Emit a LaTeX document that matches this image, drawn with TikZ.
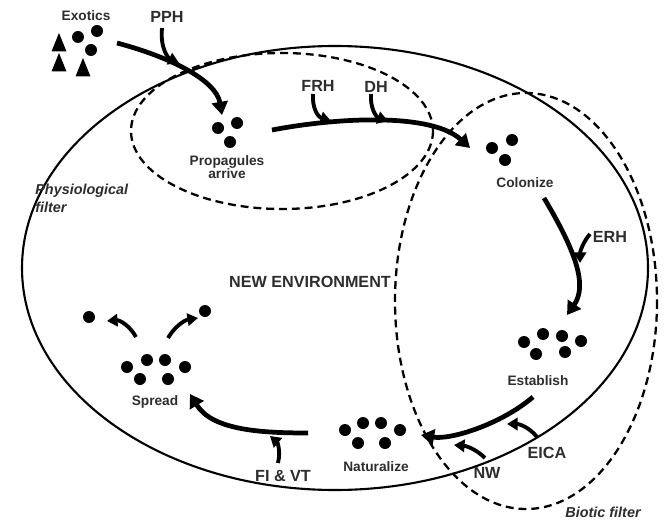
\documentclass[tikz,border=0pt]{standalone}
\usepackage{fontspec}
\setmainfont{Liberation Sans}
\definecolor{txtgray}{RGB}{45,45,45}
\usetikzlibrary{arrows.meta}
\tikzset{
  px/.style={x=0.02cm, y=-0.02cm},
  lbl/.style={font=\bfseries\fontsize{7.8}{9}\selectfont, text=txtgray, inner sep=0pt},
  hyp/.style={font=\bfseries\fontsize{9.2}{10}\selectfont, text=txtgray, inner sep=0pt},
  filt/.style={font=\bfseries\itshape\fontsize{8.2}{10}\selectfont, text=txtgray, inner sep=0pt, align=left},
  flow/.style={line width=2.7pt, -{Triangle[length=7.5pt,width=9pt]}},
  push/.style={line width=2.2pt, -{Triangle[length=6pt,width=7pt]}},
  filter/.style={line width=1.3pt, dash pattern=on 4.5pt off 2.8pt},
}
\begin{document}
\begin{tikzpicture}[px]
  \useasboundingbox (0,0) rectangle (665,520);
  % filtros
  \draw[line width=1.2pt] (335,268) ellipse [x radius=313, y radius=222];
  \draw[filter] (282,131) ellipse [x radius=151, y radius=78];
  \draw[filter] (526,301) ellipse [x radius=131, y radius=208];
  % especies
  \foreach \p in {(59,33), (59,53), (83,58)}
    \fill \p ++(0,0) -- ++(7.5,18.5) -- ++(-15,0) -- cycle;
  \foreach \p in {(78,37), (97,31), (91,50),
                  (218,128), (237,123), (230,142),
                  (492,148), (512,140), (505,160),
                  (524,342), (543,334), (562,336), (581,341), (536,354), (565,352),
                  (345,430), (363,423), (381,423), (400,430), (358,443), (385,443),
                  (127,367), (147,360), (165,360), (185,367), (140,379), (168,379),
                  (89,317), (205,311)}
    \fill \p circle [radius=6];
  % etiquetas
  \node[lbl] (exotics) at (86,16) {Exotics};
  \node[hyp] (pph) at (167,17) {PPH};
  \node[lbl, align=center] (propagules) at (227,167) {Propagules\\[-1.5pt]arrive};
  \node[hyp] (frh) at (318,86) {FRH};
  \node[hyp] (dh) at (376,87) {DH};
  \node[lbl] (colonize) at (525,183) {Colonize};
  \node[hyp] (erh) at (610,237) {ERH};
  \node[lbl] (establish) at (538,381) {Establish};
  \node[hyp] (eica) at (547,453) {EICA};
  \node[hyp] (nw) at (487,473) {NW};
  \node[lbl] (naturalize) at (376,467) {Naturalize};
  \node[hyp] (fivt) at (283,476) {FI \& VT};
  \node[lbl] (spread) at (155,402) {Spread};
  \node[hyp] (newenv) at (310,282) {NEW ENVIRONMENT};
  \node[filt, anchor=north west] (physio) at (35,184) {Physiological\\filter};
  \node[filt] (biotic) at (603,512) {Biotic filter};
  % extremos de flechas
  \coordinate (ex0) at (117,43);  \coordinate (ex1) at (222,115);
  \coordinate (pp0) at (162,28);  \coordinate (pp1) at (179,63);
  \coordinate (co0) at (272,130); \coordinate (co1) at (470,148);
  \coordinate (fr0) at (313,94);  \coordinate (fr1) at (331,121);
  \coordinate (dh0) at (371,94);  \coordinate (dh1) at (388,121);
  \coordinate (es0) at (544,198); \coordinate (es1) at (567,315);
  \coordinate (er0) at (590,234); \coordinate (er1) at (580,263);
  \coordinate (na0) at (533,397); \coordinate (na1) at (421,435);
  \coordinate (ei0) at (537,437); \coordinate (ei1) at (507,424);
  \coordinate (nw0) at (485,458); \coordinate (nw1) at (454,445);
  \coordinate (sp0) at (308,433); \coordinate (sp1) at (190,394);
  \coordinate (fi0) at (278,463); \coordinate (fi1) at (270,436);
  \coordinate (ls0) at (136,337); \coordinate (ls1) at (107,321);
  \coordinate (rs0) at (168,338); \coordinate (rs1) at (198,318);
  % flechas
  \draw[flow] (ex0) .. controls (170,57) and (216,80) .. (ex1);
  \draw[push] (pp0) .. controls (160,48) and (168,58) .. (pp1);
  \draw[flow] (co0) .. controls (340,117) and (432,113) .. (co1);
  \draw[push] (fr0) .. controls (312,108) and (318,117) .. (fr1);
  \draw[push] (dh0) .. controls (370,108) and (376,117) .. (dh1);
  \draw[flow] (es0) .. controls (575,250) and (588,285) .. (es1);
  \draw[push] (er0) .. controls (583,242) and (580,252) .. (er1);
  \draw[flow] (na0) .. controls (500,425) and (450,440) .. (na1);
  \draw[push] (ei0) .. controls (530,428) and (520,424) .. (ei1);
  \draw[push] (nw0) .. controls (477,450) and (467,446) .. (nw1);
  \draw[flow] (sp0) .. controls (260,433) and (212,430) .. (sp1);
  \draw[push] (fi0) .. controls (281,450) and (277,442) .. (fi1);
  \draw[push] (ls0) .. controls (130,326) and (120,320) .. (ls1);
  \draw[push] (rs0) .. controls (175,326) and (185,320) .. (rs1);
\end{tikzpicture}
\end{document}
